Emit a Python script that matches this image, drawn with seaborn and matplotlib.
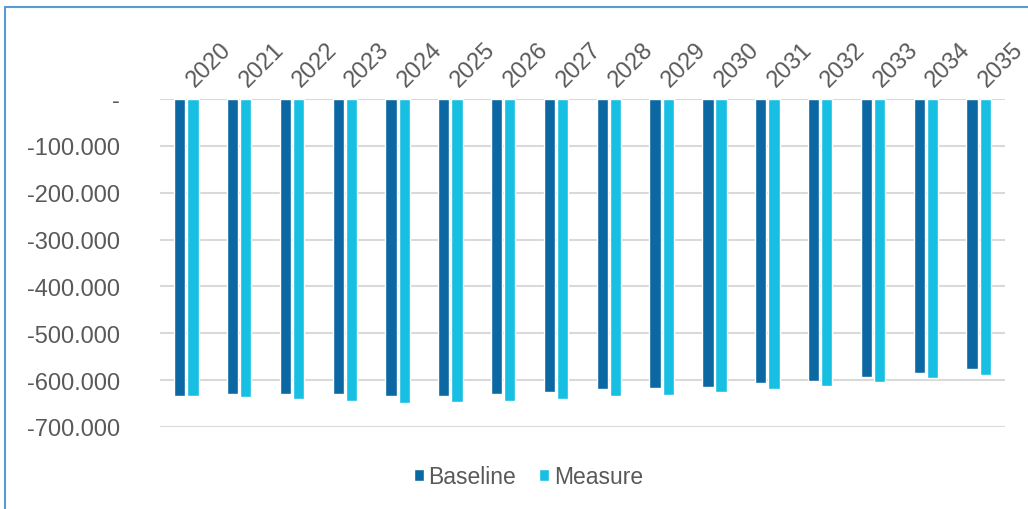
import pandas as pd
import matplotlib.pyplot as plt
import seaborn as sns
from matplotlib.lines import Line2D
from matplotlib.ticker import FuncFormatter
from matplotlib.transforms import ScaledTranslation

# ================== 数据 ==================
YEARS = [str(y) for y in range(2020, 2036)]
BASELINE = [-634000, -630000, -630000, -630000, -634000, -634000, -630000, -625000,
            -620000, -618000, -615000, -606000, -601000, -593000, -585000, -577000]
MEASURE = [-634000, -636000, -640000, -645000, -648000, -647000, -645000, -640000,
           -634000, -632000, -626000, -620000, -612000, -604000, -596000, -589000]
SERIES = ["Baseline", "Measure"]
COLORS = ["#0B68A2", "#17BFE2"]
OUTPUT = "out.png"
# ==========================================

TEXT_GREY = "#595959"


def fmt_thousands(v, pos):
    # 0 -> "-", 其余用点号作千分位
    if abs(v) < 1e-9:
        return "-"
    return f"{v:,.0f}".replace(",", ".")


def plot_bars(df, save_path):
    sns.set_theme(style="white")
    plt.rcParams['font.family'] = ['Liberation Sans', 'DejaVu Sans']

    fig = plt.figure(figsize=(10.28, 5.10), dpi=100)
    ax = fig.add_axes([0.1556, 0.161, 0.822, 0.643])

    sns.barplot(
        data=df, x="Year", y="Value", hue="Series",
        palette=COLORS, width=0.5, gap=0.15,
        saturation=1, legend=True, ax=ax
    )

    ax.set_ylim(-700000, 0)
    ax.set_yticks(range(-700000, 1, 100000))
    ax.yaxis.set_major_formatter(FuncFormatter(fmt_thousands))
    ax.yaxis.grid(True, color="#D9D9D9", linewidth=1.5)
    ax.set_axisbelow(True)
    for s in ax.spines.values():
        s.set_visible(False)

    ax.set_xlabel("")
    ax.set_ylabel("")
    ax.xaxis.tick_top()
    ax.tick_params(axis="x", length=0, pad=6, labelsize=17, labelcolor=TEXT_GREY)
    ax.tick_params(axis="y", length=0, pad=29, labelsize=17, labelcolor=TEXT_GREY)
    ax.set_xticks(range(len(YEARS)), labels=YEARS, rotation=45,
                  ha="left", va="bottom", rotation_mode="anchor")
    # 年份标签稍微往右挪一点
    shift = ScaledTranslation(0.12, 0, fig.dpi_scale_trans)
    for tick in ax.xaxis.get_major_ticks():
        tick.label2.set_transform(tick.label2.get_transform() + shift)

    # 图例放在底部
    handles, labels = ax.get_legend_handles_labels()
    ax.get_legend().remove()
    fig.legend(handles, labels, loc="center", bbox_to_anchor=(0.514, 0.063),
               ncol=2, frameon=False, fontsize=16.5, labelcolor=TEXT_GREY,
               handlelength=0.45, handleheight=0.45, handletextpad=0.2,
               columnspacing=1.0)

    # 截图外框 (左边和上边的蓝线)
    fig.add_artist(Line2D([5 / 1028, 1], [1 - 8 / 510, 1 - 8 / 510],
                          color="#5B9BD5", linewidth=1.5))
    fig.add_artist(Line2D([5 / 1028, 5 / 1028], [0, 1 - 8 / 510],
                          color="#5B9BD5", linewidth=1.5))

    fig.savefig(save_path, dpi=100)


def main():
    df = pd.DataFrame({
        "Year": YEARS * 2,
        "Value": BASELINE + MEASURE,
        "Series": [SERIES[0]] * len(YEARS) + [SERIES[1]] * len(YEARS),
    })
    plot_bars(df, OUTPUT)


if __name__ == "__main__":
    main()
